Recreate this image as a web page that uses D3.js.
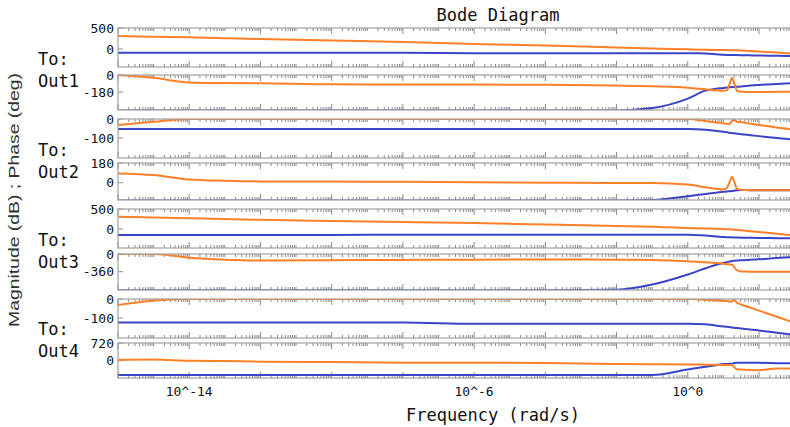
<!DOCTYPE html>
<html>
<head>
<meta charset="utf-8">
<script src="https://cdn.jsdelivr.net/npm/d3@7/dist/d3.min.js"></script>
<style>
  body { margin: 0; background: #fff; }
  svg { display: block; }
  .mono { font-family: "DejaVu Sans Mono", monospace; fill: #111; }
</style>
</head>
<body>
<div id="chart"></div>
<script>
var svgWidth = 790;
var svgHeight = 427;

// frequency grid, log10(rad/s)
var logW = [-16, -15, -14, -13, -12, -10, -8, -6, -4, -2, -1, 0, 0.5, 0.8, 1.0, 1.1, 1.18, 1.24, 1.3, 1.38, 1.5, 1.75, 2, 2.5, 2.9];

// Out1
var magOut1Orange = [309, 293, 278, 258, 238, 202, 167, 119, 83, 36, 12, -7, -19, -24, -26, -27, -28, -28, -29, -30, -36, -48, -60, -83, -107];
var magOut1Blue = [-88, -88, -88, -88, -88, -88, -88, -102, -102, -102, -102, -102, -105, -125, -140, -143, -143, -144, -145, -146, -148, -152, -156, -162, -167];
var phOut1Orange = [0, -30, -80, -86, -88, -99, -100, -102, -104, -112, -120, -135, -152, -162, -166, -160, -90, -30, -80, -165, -178, -180, -180, -178, -178];
var phOut1Blue = [-375, -375, -375, -375, -375, -375, -375, -375, -375, -375, -350, -250, -165, -145, -138, -133, -130, -128, -127, -125, -122, -112, -105, -95, -88];
// Out2
var magOut2Orange = [-32, -15, 0, 0, 0, 0, 0, 0, 0, 0, 0, 0, -11, -18, -23, -25, -26, -10, -5, -14, -17, -24, -31, -45, -54];
var magOut2Blue = [-53, -53, -53, -53, -53, -53, -53, -53, -53, -53, -53, -53, -57, -63, -67, -70, -73, -74, -75, -77, -80, -85, -90, -100, -107];
var phOut2Orange = [85, 70, 30, 18, 12, 10, 8, 5, 0, -3, -3, -17, -42, -56, -63, -45, 10, 55, 15, -55, -65, -68, -68, -68, -69];
var phOut2Blue = [-162, -162, -162, -162, -162, -162, -162, -162, -162, -162, -158, -123, -103, -91, -83, -80, -77, -75, -73, -70, -67, -68, -68, -68, -69];
// Out3
var magOut3Orange = [308, 290, 270, 250, 230, 202, 175, 147, 112, 78, 58, 23, 15, 4, -2, -5, -8, -12, -16, -22, -33, -55, -77, -118, -150];
var magOut3Blue = [-150, -150, -150, -150, -148, -147, -146, -145, -143, -142, -142, -142, -165, -185, -200, -205, -208, -210, -212, -214, -216, -220, -224, -230, -233];
var phOut3Orange = [0, 0, -75, -115, -132, -128, -120, -115, -110, -115, -120, -146, -170, -185, -199, -207, -214, -220, -260, -330, -355, -358, -360, -360, -360];
var phOut3Blue = [-735, -735, -735, -735, -735, -735, -735, -735, -735, -725, -620, -416, -290, -217, -181, -165, -152, -142, -136, -130, -128, -118, -108, -81, -67];
// Out4
var magOut4Orange = [-32, -8, 0, 0, 0, 0, 0, 0, 0, 0, 0, 0, -4, -7, -9, -11, -13, -14, -2, -20, -29, -45, -61, -93, -119];
var magOut4Blue = [-124, -124, -124, -124, -124, -124, -124, -130, -130, -130, -130, -130, -133, -140, -144, -146, -148, -150, -151, -153, -155, -160, -166, -177, -186];
var phOut4Orange = [30, 45, 0, -12, -40, -55, -80, -85, -90, -134, -140, -152, -160, -168, -172, -175, -178, -180, -260, -350, -360, -375, -385, -316, -316];
var phOut4Blue = [-580, -580, -580, -580, -580, -580, -580, -580, -580, -580, -580, -356, -245, -182, -136, -130, -125, -120, -95, -85, -82, -82, -85, -100, -108];

var outputNames = ["Out1", "Out2", "Out3", "Out4"];

// y domains and tick labels for the 8 stacked axes
var yDomains = [[-429, 500], [-371, 0], [-205, 0], [-158, 180], [-475, 500], [-731, 0], [-205, 0], [-704, 720]];
var yTickValues = [[500, 0], [0, -180], [0, -100], [180, 0], [500, 0], [0, -360], [0, -100], [720, 0]];

// x axis
var logDomain = [-16, 2.87];
var labeledDecades = [-14, -6, 0];

var seriesByPanel = [
  [magOut1Blue, magOut1Orange], [phOut1Blue, phOut1Orange],
  [magOut2Blue, magOut2Orange], [phOut2Blue, phOut2Orange],
  [magOut3Blue, magOut3Orange], [phOut3Blue, phOut3Orange],
  [magOut4Blue, magOut4Orange], [phOut4Blue, phOut4Orange]
];
var colors = ["#3a44c6", "#ff7f27"];

// panel layout (pixel rows)
var panelTops = [28, 75, 119, 163, 209, 254, 299, 343];
var panelBottoms = [67, 110, 158, 200, 248, 290, 338, 378];
var plotLeft = 118;
var plotRight = 790;

var svg = d3.select("#chart")
  .append("svg")
  .attr("width", svgWidth)
  .attr("height", svgHeight);

var xScale = d3.scaleLog()
  .domain([Math.pow(10, logDomain[0]), Math.pow(10, logDomain[1])])
  .range([plotLeft, plotRight]);

// tick values: 1..9 in every decade, tall ones every second decade
var minorTicks = [];
for (var d = Math.floor(logDomain[0]); d <= Math.ceil(logDomain[1]); d++) {
  for (var k = 1; k <= 9; k++) {
    var v = k * Math.pow(10, d);
    if (v >= xScale.domain()[0] && v <= xScale.domain()[1]) {
      minorTicks.push({ v: v, major: k === 1 && d % 2 === 0 });
    }
  }
}

var defs = svg.append("defs");

panelTops.forEach(function(top, i) {
  var bottom = panelBottoms[i];
  var yScale = d3.scaleLinear()
    .domain(yDomains[i])
    .range([bottom, top]);

  var g = svg.append("g");

  defs.append("clipPath")
    .attr("id", "clip" + i)
    .append("rect")
    .attr("x", plotLeft)
    .attr("y", top)
    .attr("width", plotRight - plotLeft)
    .attr("height", bottom - top);

  // x ticks on top and bottom edges, pointing inward
  g.selectAll("line.tb")
    .data(minorTicks)
    .enter()
    .append("line")
    .attr("x1", t => xScale(t.v))
    .attr("x2", t => xScale(t.v))
    .attr("y1", top)
    .attr("y2", t => top + (t.major ? 6 : 3))
    .attr("stroke", "#8a8a8a")
    .attr("stroke-width", 1);
  g.selectAll("line.bb")
    .data(minorTicks)
    .enter()
    .append("line")
    .attr("x1", t => xScale(t.v))
    .attr("x2", t => xScale(t.v))
    .attr("y1", bottom)
    .attr("y2", t => bottom - (t.major ? 6 : 3))
    .attr("stroke", "#8a8a8a")
    .attr("stroke-width", 1);

  // y ticks and labels
  yTickValues[i].forEach(function(tv) {
    g.append("line")
      .attr("x1", plotLeft)
      .attr("x2", plotLeft + 5)
      .attr("y1", yScale(tv))
      .attr("y2", yScale(tv))
      .attr("stroke", "#8a8a8a");
    g.append("text")
      .attr("class", "mono")
      .attr("x", plotLeft - 4)
      .attr("y", yScale(tv))
      .attr("dy", "0.35em")
      .attr("text-anchor", "end")
      .style("font-size", "13px")
      .text(tv);
  });

  // lines
  var line = d3.line()
    .x((val, j) => xScale(Math.pow(10, logW[j])))
    .y(val => yScale(val))
    .curve(d3.curveMonotoneX);

  seriesByPanel[i].forEach(function(vals, s) {
    g.append("path")
      .attr("clip-path", "url(#clip" + i + ")")
      .attr("d", line(vals))
      .attr("fill", "none")
      .attr("stroke", colors[s])
      .attr("stroke-width", 2);
  });

  // frame: top, bottom, left
  g.append("path")
    .attr("d", `M${plotRight},${top}H${plotLeft}V${bottom}H${plotRight}`)
    .attr("fill", "none")
    .attr("stroke", "#a0a0a0")
    .attr("stroke-opacity", 0.8)
    .attr("stroke-width", 1.5);
});

// x tick labels under last panel
labeledDecades.forEach(function(dec) {
  svg.append("text")
    .attr("class", "mono")
    .attr("x", xScale(Math.pow(10, dec)))
    .attr("y", 396)
    .attr("text-anchor", "middle")
    .style("font-size", "13px")
    .text("10^" + dec);
});

// output labels
outputNames.forEach(function(name, i) {
  var mid = (panelTops[2 * i] + panelBottoms[2 * i + 1]) / 2;
  svg.append("text")
    .attr("class", "mono")
    .attr("x", 38)
    .attr("y", mid - 4)
    .style("font-size", "17px")
    .text("To:");
  svg.append("text")
    .attr("class", "mono")
    .attr("x", 38)
    .attr("y", mid + 18)
    .style("font-size", "17px")
    .text(name);
});

// title and axis labels
svg.append("text")
  .attr("class", "mono")
  .attr("x", 498)
  .attr("y", 21)
  .attr("text-anchor", "middle")
  .style("font-size", "17px")
  .text("Bode Diagram");

svg.append("text")
  .attr("class", "mono")
  .attr("x", 493)
  .attr("y", 421)
  .attr("text-anchor", "middle")
  .style("font-size", "17px")
  .text("Frequency (rad/s)");

svg.append("text")
  .attr("transform", "translate(19, 200) rotate(-90)")
  .attr("text-anchor", "middle")
  .attr("textLength", 254)
  .attr("lengthAdjust", "spacingAndGlyphs")
  .style("font-family", "'Liberation Sans', Arial, sans-serif")
  .style("font-size", "15px")
  .style("fill", "#333")
  .text("Magnitude (dB) ; Phase (deg)");
</script>
</body>
</html>
